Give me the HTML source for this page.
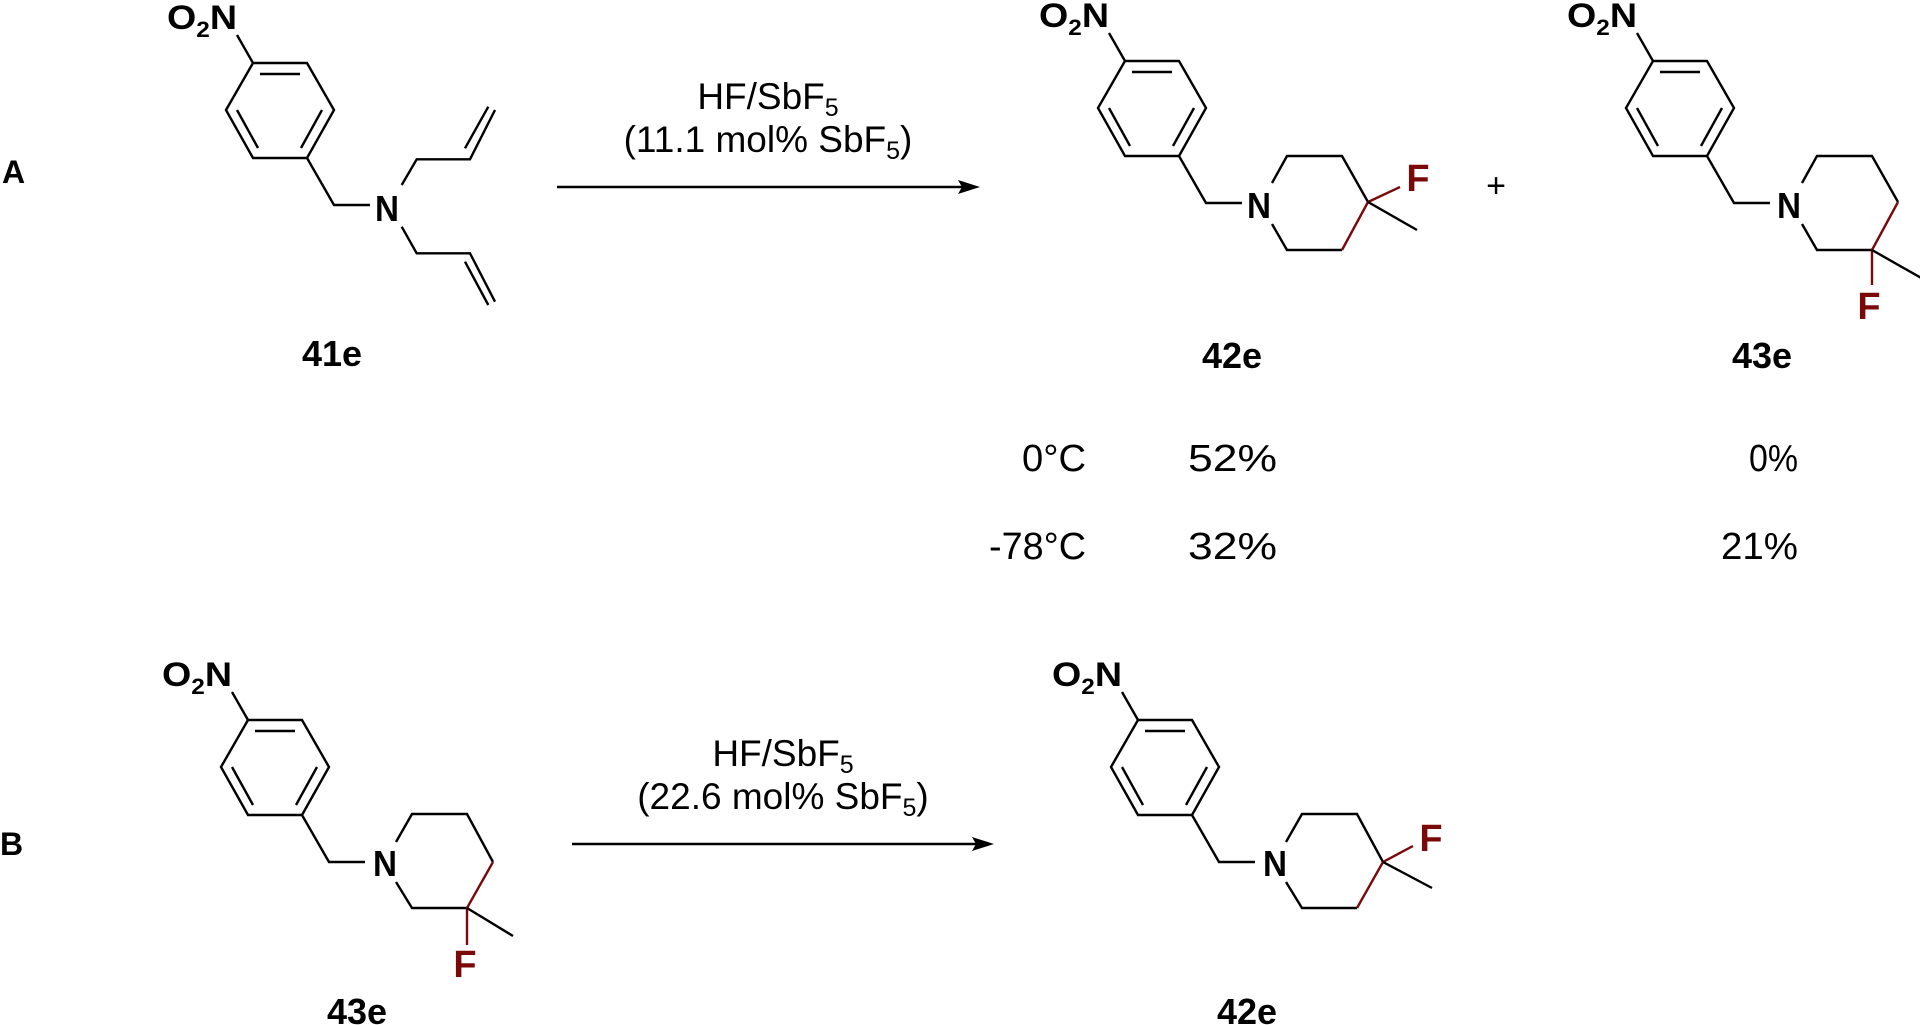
<!DOCTYPE html>
<html><head><meta charset="utf-8"><style>
html,body{margin:0;padding:0;background:#fff;width:1920px;height:1025px;overflow:hidden}
svg{display:block}
text{font-family:"Liberation Sans",Arial,sans-serif}
</style></head><body>
<svg width="1920" height="1025" viewBox="0 0 1920 1025" xmlns="http://www.w3.org/2000/svg">
<defs>
<g id="ar" fill="none" stroke="#000" stroke-width="2.4" stroke-linejoin="miter">
  <polygon points="0,0 54,0 81,47 54,95 0,95 -27,47"/>
  <line x1="7" y1="11" x2="47" y2="11"/>
  <line x1="69" y1="47" x2="48" y2="85"/>
  <line x1="-16" y1="47" x2="5" y2="85"/>
  <line x1="-16" y1="-28" x2="0" y2="0"/>
  <polyline points="54,95 81,142 117,142"/>
</g>
<g id="no2">
  <text x="-86" y="-34" font-size="34" font-weight="bold" textLength="70" lengthAdjust="spacingAndGlyphs">O<tspan font-size="22" dy="8">2</tspan><tspan dy="-8">N</tspan></text>
</g>
</defs>

<text x="2" y="183" font-size="32" font-weight="bold">A</text>
<text x="0" y="855" font-size="32" font-weight="bold">B</text>

<!-- 41e -->
<g transform="translate(253,63)">
  <use href="#ar"/>
  <use href="#no2"/>
  <text x="134" y="158" text-anchor="middle" font-size="36" font-weight="bold" textLength="24" lengthAdjust="spacingAndGlyphs">N</text>
</g>
<g fill="none" stroke="#000" stroke-width="2.4">
  <polyline points="401.7,185 416.7,159.3 470,159.3 495,110"/>
  <line x1="465" y1="148.3" x2="488.3" y2="106.7"/>
  <polyline points="401.7,226.7 416.7,253.3 470,253.3 495,301.7"/>
  <line x1="465" y1="261.7" x2="488.3" y2="305"/>
</g>
<text x="332" y="366" text-anchor="middle" font-size="36" font-weight="bold">41e</text>

<!-- Arrow A -->
<text x="768" y="109" text-anchor="middle" font-size="37">HF/SbF<tspan font-size="25" dy="7">5</tspan></text>
<text x="768" y="152" text-anchor="middle" font-size="37">(11.1 mol% SbF<tspan font-size="25" dy="7">5</tspan><tspan dy="-7">)</tspan></text>
<line x1="557" y1="187" x2="965" y2="187" stroke="#000" stroke-width="2.4"/>
<polygon points="980,187 958,180 962,187 958,194" fill="#000"/>

<!-- 42e (A) -->
<g transform="translate(1125,61)">
  <use href="#ar"/>
  <use href="#no2"/>
  <text x="134" y="157" text-anchor="middle" font-size="36" font-weight="bold" textLength="24" lengthAdjust="spacingAndGlyphs">N</text>
  <polyline points="147,122 162,95 217,95 243,141" fill="none" stroke="#000" stroke-width="2.4"/>
  <polyline points="217,189 162,189 147,163" fill="none" stroke="#000" stroke-width="2.4"/>
  <line x1="243" y1="141" x2="217" y2="189" stroke="#7a0a0a" stroke-width="2.4"/>
  <line x1="243" y1="141" x2="275" y2="126" stroke="#7a0a0a" stroke-width="2.4"/>
  <line x1="243" y1="141" x2="292" y2="169" stroke="#000" stroke-width="2.4"/>
  <text x="293" y="130" text-anchor="middle" font-size="38" font-weight="bold" fill="#7a0a0a">F</text>
</g>
<text x="1232" y="368" text-anchor="middle" font-size="36" font-weight="bold">42e</text>

<text x="1496" y="197" text-anchor="middle" font-size="34">+</text>

<!-- 43e (A) -->
<g transform="translate(1653,61)">
  <use href="#ar"/>
  <use href="#no2"/>
  <text x="136" y="157" text-anchor="middle" font-size="36" font-weight="bold" textLength="24" lengthAdjust="spacingAndGlyphs">N</text>
  <polyline points="149,122 164,95 219,95 245,141" fill="none" stroke="#000" stroke-width="2.4"/>
  <polyline points="219,189 164,189 149,163" fill="none" stroke="#000" stroke-width="2.4"/>
  <line x1="245" y1="141" x2="219" y2="189" stroke="#7a0a0a" stroke-width="2.4"/>
  <line x1="219" y1="189" x2="219" y2="224" stroke="#7a0a0a" stroke-width="2.4"/>
  <line x1="219" y1="189" x2="270" y2="218" stroke="#000" stroke-width="2.4"/>
  <text x="216" y="258" text-anchor="middle" font-size="38" font-weight="bold" fill="#7a0a0a">F</text>
</g>
<text x="1762" y="368" text-anchor="middle" font-size="36" font-weight="bold">43e</text>

<!-- table -->
<text x="1022" y="471" font-size="38" textLength="64" lengthAdjust="spacingAndGlyphs">0°C</text>
<text x="1188" y="471" font-size="38" textLength="89" lengthAdjust="spacingAndGlyphs">52%</text>
<text x="1749" y="471" font-size="38" textLength="49" lengthAdjust="spacingAndGlyphs">0%</text>
<text x="989" y="559" font-size="38" textLength="97" lengthAdjust="spacingAndGlyphs">-78°C</text>
<text x="1188" y="559" font-size="38" textLength="89" lengthAdjust="spacingAndGlyphs">32%</text>
<text x="1721" y="559" font-size="38" textLength="77" lengthAdjust="spacingAndGlyphs">21%</text>

<!-- 43e (B) -->
<g transform="translate(248,720)">
  <use href="#ar"/>
  <use href="#no2"/>
  <text x="137" y="156" text-anchor="middle" font-size="36" font-weight="bold" textLength="24" lengthAdjust="spacingAndGlyphs">N</text>
  <polyline points="148,122 164,94 219,94 245,142" fill="none" stroke="#000" stroke-width="2.4"/>
  <polyline points="219,188 164,188 148,162" fill="none" stroke="#000" stroke-width="2.4"/>
  <line x1="245" y1="142" x2="219" y2="188" stroke="#7a0a0a" stroke-width="2.4"/>
  <line x1="219" y1="188" x2="219" y2="225" stroke="#7a0a0a" stroke-width="2.4"/>
  <line x1="219" y1="188" x2="265" y2="216" stroke="#000" stroke-width="2.4"/>
  <text x="217" y="257" text-anchor="middle" font-size="38" font-weight="bold" fill="#7a0a0a">F</text>
</g>
<text x="357" y="1024" text-anchor="middle" font-size="36" font-weight="bold">43e</text>

<!-- Arrow B -->
<text x="783" y="766" text-anchor="middle" font-size="37">HF/SbF<tspan font-size="25" dy="7">5</tspan></text>
<text x="783" y="809" text-anchor="middle" font-size="37">(22.6 mol% SbF<tspan font-size="25" dy="7">5</tspan><tspan dy="-7">)</tspan></text>
<line x1="572" y1="844" x2="979" y2="844" stroke="#000" stroke-width="2.4"/>
<polygon points="994,844 972,837 976,844 972,851" fill="#000"/>

<!-- 42e (B) -->
<g transform="translate(1138,720)">
  <use href="#ar"/>
  <use href="#no2"/>
  <text x="137" y="156" text-anchor="middle" font-size="36" font-weight="bold" textLength="24" lengthAdjust="spacingAndGlyphs">N</text>
  <polyline points="148,122 164,94 219,94 245,142" fill="none" stroke="#000" stroke-width="2.4"/>
  <polyline points="219,188 164,188 148,162" fill="none" stroke="#000" stroke-width="2.4"/>
  <line x1="245" y1="142" x2="219" y2="188" stroke="#7a0a0a" stroke-width="2.4"/>
  <line x1="245" y1="142" x2="275" y2="126" stroke="#7a0a0a" stroke-width="2.4"/>
  <line x1="245" y1="142" x2="294" y2="168" stroke="#000" stroke-width="2.4"/>
  <text x="293" y="131" text-anchor="middle" font-size="38" font-weight="bold" fill="#7a0a0a">F</text>
</g>
<text x="1247" y="1024" text-anchor="middle" font-size="36" font-weight="bold">42e</text>
</svg>
</body></html>
